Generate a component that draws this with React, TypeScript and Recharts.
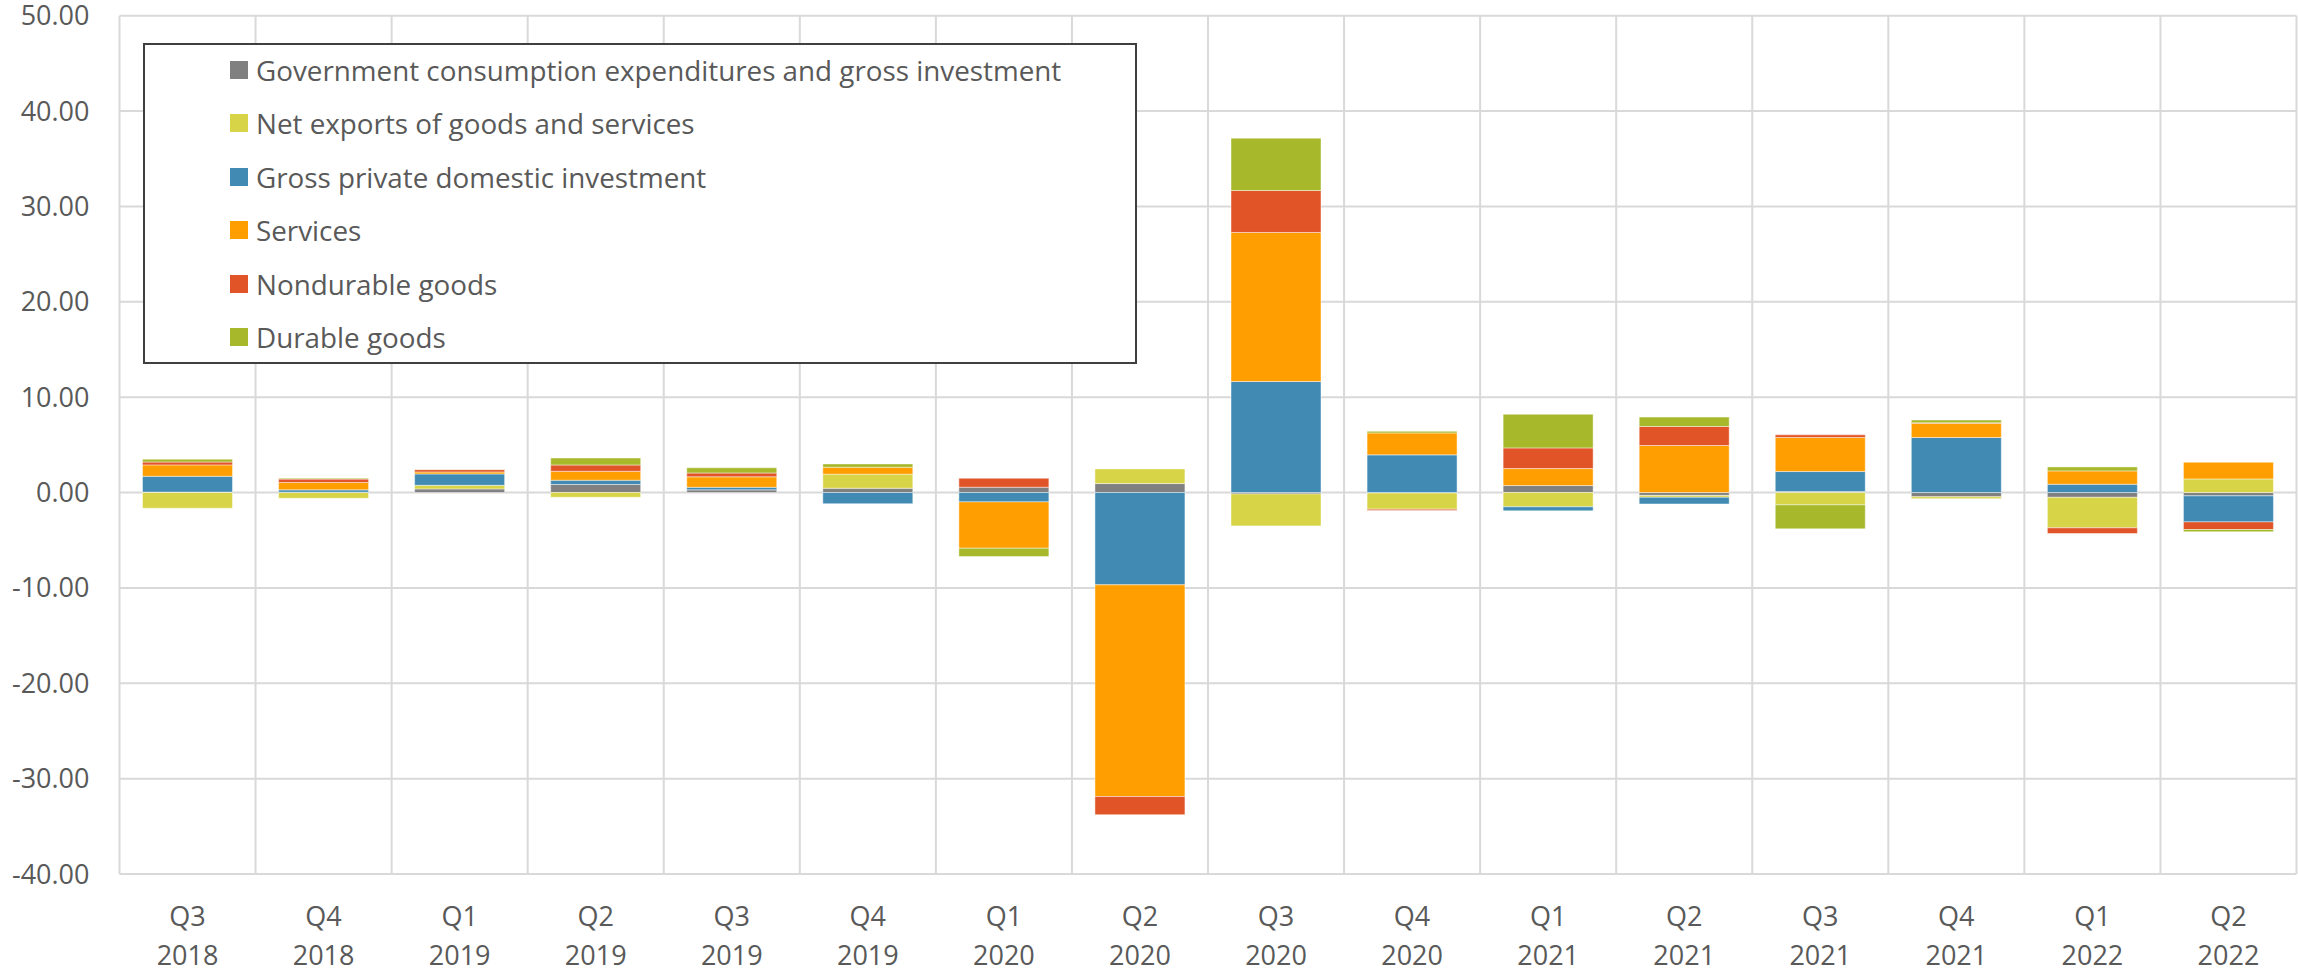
import React from 'react';
import { BarChart, Bar, XAxis, YAxis, CartesianGrid, Legend } from 'recharts';

const quarters = ['Q3', 'Q4', 'Q1', 'Q2', 'Q3', 'Q4', 'Q1', 'Q2', 'Q3', 'Q4', 'Q1', 'Q2', 'Q3', 'Q4', 'Q1', 'Q2'];
const years = ['2018', '2018', '2019', '2019', '2019', '2019', '2020', '2020', '2020', '2020', '2021', '2021', '2021', '2021', '2022', '2022'];

const government = [0.05, 0.03, 0.38, 0.84, 0.28, 0.45, 0.56, 0.94, -0.15, -0.05, 0.73, -0.3, 0.1, -0.45, -0.5, -0.35];
const netExports = [-1.65, -0.6, 0.38, -0.5, 0, 1.47, 0, 1.54, -3.35, -1.7, -1.5, -0.2, -1.29, -0.2, -3.2, 1.43];
const grossInvestment = [1.65, 0.25, 1.19, 0.45, 0.27, -1.17, -0.98, -9.68, 11.64, 3.95, -0.42, -0.7, 2.1, 5.77, 0.87, -2.73];
const services = [1.2, 0.78, 0.21, 0.94, 1.1, 0.73, -4.86, -22.2, 15.63, 2.3, 1.78, 4.93, 3.57, 1.5, 1.4, 1.75];
const nondurableGoods = [0.3, 0.35, 0.245, 0.66, 0.4, 0, 0.94, -1.9, 4.4, -0.14, 2.17, 2.0, 0.28, 0.05, -0.6, -0.8];
const durableGoods = [0.3, 0.1, 0.03, 0.73, 0.55, 0.35, -0.87, 0, 5.49, 0.17, 3.53, 0.98, -2.52, 0.28, 0.42, -0.24];

const yTicks = [-40, -30, -20, -10, 0, 10, 20, 30, 40, 50];

const seriesKeys = ['government', 'netExports', 'grossInvestment', 'services', 'nondurableGoods', 'durableGoods'];
const seriesNames = [
  'Government consumption expenditures and gross investment',
  'Net exports of goods and services',
  'Gross private domestic investment',
  'Services',
  'Nondurable goods',
  'Durable goods',
];
const seriesColors = ['#808080', '#D8D447', '#418AB3', '#FF9E00', '#E05428', '#A7B82A'];

const categories = quarters.map((q, i) => `${q} ${years[i]}`);

const data = categories.map((c, i) => ({
  category: c,
  government: government[i],
  netExports: netExports[i],
  grossInvestment: grossInvestment[i],
  services: services[i],
  nondurableGoods: nondurableGoods[i],
  durableGoods: durableGoods[i],
}));

const FONT = '"Open Sans", "Noto Sans", sans-serif';
const TEXT = '#595959';

const XTick = (props: any) => {
  const { x, y, payload } = props;
  const [q, yr] = String(payload.value).split(' ');
  return (
    <text x={x} y={y} textAnchor="middle" fill={TEXT} fontSize={27} fontFamily={FONT}>
      <tspan x={x} dy={52}>{q}</tspan>
      <tspan x={x} dy={39}>{yr}</tspan>
    </text>
  );
};

const renderLegend = () => {
  return (
    <div
      style={{
        boxSizing: 'border-box',
        width: '100%',
        height: '100%',
        border: '2px solid #3f3f3f',
        background: '#ffffff',
        fontFamily: FONT,
        fontSize: 27.8,
        color: TEXT,
        overflow: 'hidden',
      }}
    >
      <div style={{ position: 'relative', top: -2 }}>
        {seriesNames.map((name, i) => (
          <div
            key={i}
            style={{
              height: 53.5,
              display: 'flex',
              alignItems: 'center',
              paddingLeft: 85,
              whiteSpace: 'nowrap',
            }}
          >
            <span style={{ display: 'inline-block', width: 18, height: 18, background: seriesColors[i], marginRight: 8 }} />
            <span style={{ lineHeight: '28px' }}>{name}</span>
          </div>
        ))}
      </div>
    </div>
  );
};

const verticalLines = ({ offset }: any) => {
  const n = categories.length;
  const out: number[] = [];
  for (let i = 0; i <= n; i++) out.push(offset.left + (i * offset.width) / n);
  return out;
};

export default function App() {
  return (
    <div style={{ position: 'absolute', left: 0, top: 0, width: 2298, height: 972, background: '#fff' }}>
      <BarChart
        width={2298}
        height={972}
        data={data}
        stackOffset="sign"
        margin={{ top: 15.7, right: 1.5, bottom: 0, left: 9.5 }}
      >
        <CartesianGrid stroke="#d9d9d9" strokeWidth={2} verticalCoordinatesGenerator={verticalLines} />
        <XAxis
          dataKey="category"
          interval={0}
          tick={<XTick />}
          tickLine={false}
          axisLine={false}
          tickSize={0}
          tickMargin={0}
          height={98}
        />
        <YAxis
          domain={[-40, 50]}
          ticks={yTicks}
          interval={0}
          width={110}
          tickLine={false}
          axisLine={false}
          tickSize={0}
          tickMargin={30}
          tickFormatter={(v: number) => v.toFixed(2)}
          tick={{ fill: TEXT, fontSize: 27, fontFamily: FONT }}
        />
        <Legend
          layout="vertical"
          align="center"
          verticalAlign="middle"
          content={renderLegend}
          wrapperStyle={{ left: 143, top: 43, width: 994, height: 321, margin: 0 }}
        />
        {seriesKeys.map((k, i) => (
          <Bar
            key={k}
            dataKey={k}
            name={seriesNames[i]}
            stackId="a"
            fill={seriesColors[i]}
            barSize={90}
            stroke="#ffffff"
            strokeOpacity={0.45}
            strokeWidth={1}
            isAnimationActive={false}
          />
        ))}
      </BarChart>
    </div>
  );
}
